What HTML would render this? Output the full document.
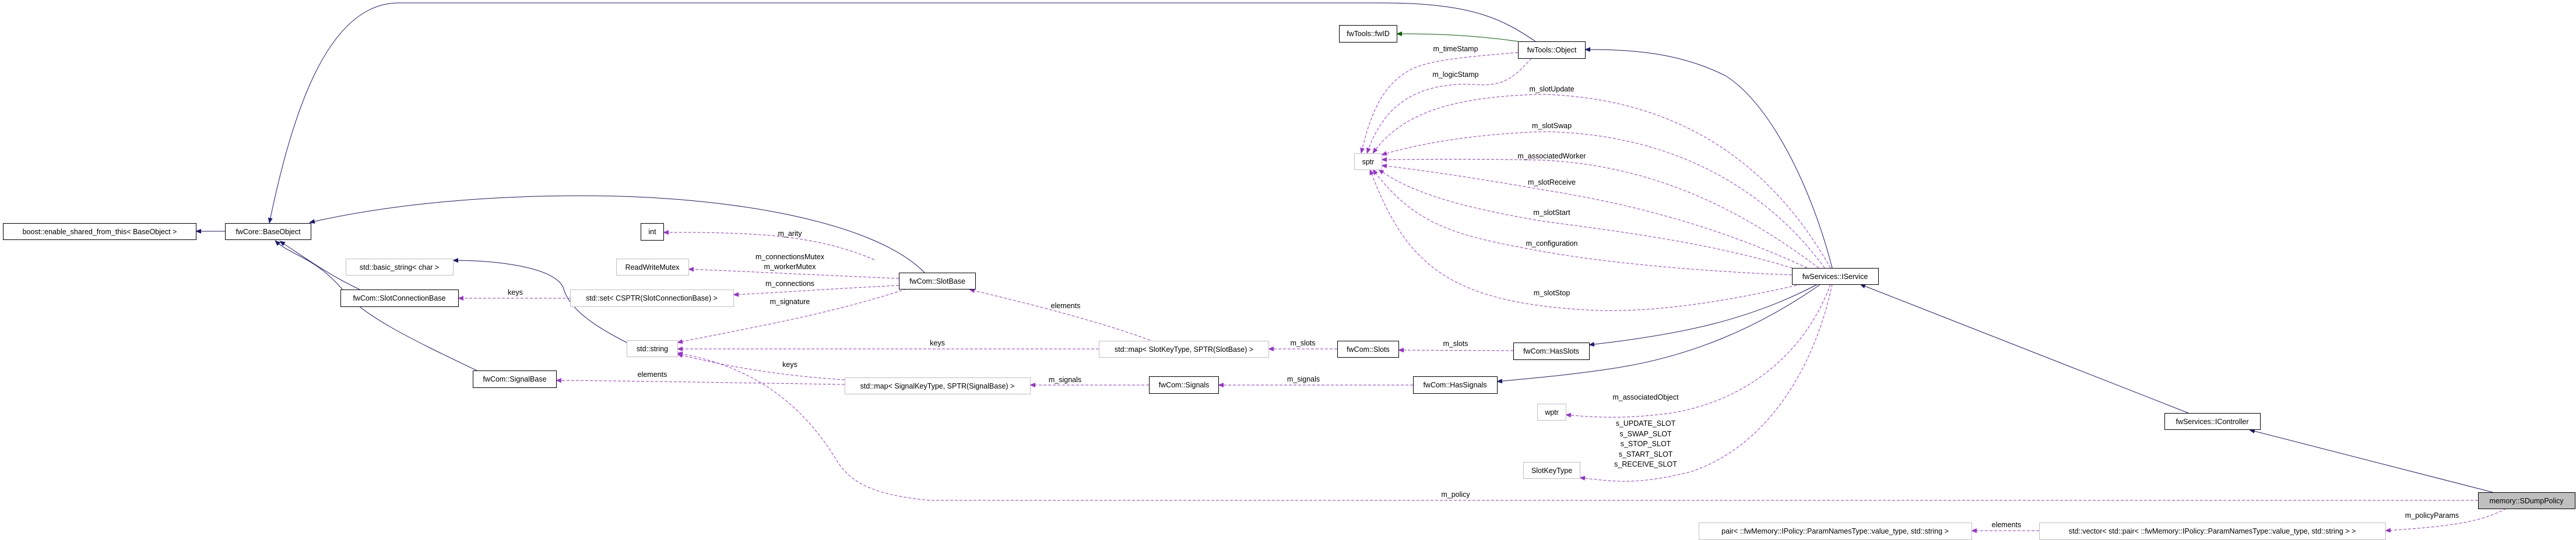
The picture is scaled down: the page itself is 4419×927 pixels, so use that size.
<!DOCTYPE html>
<html><head><meta charset="utf-8"><style>
html,body{margin:0;padding:0;background:#fff;}
svg{display:block;}
text{font-family:"Liberation Sans",sans-serif;font-size:12.5px;fill:#000;}
.n{fill:#fff;stroke:#000;stroke-width:1;}
.g{fill:#fff;stroke:#bfbfbf;stroke-width:1;}
.b{fill:none;stroke:#191970;stroke-width:1;}
.p{fill:none;stroke:#9a32cd;stroke-width:1;stroke-dasharray:5,3;}
.gr{fill:none;stroke:#006400;stroke-width:1;}
</style></head><body>
<svg width="4419" height="927" viewBox="0 0 4419 927" xmlns="http://www.w3.org/2000/svg">
<defs>
<marker id="ab" markerWidth="10" markerHeight="8" refX="9" refY="4" orient="auto" markerUnits="userSpaceOnUse"><path d="M0,0 L10,4 L0,8 z" fill="#191970"/></marker>
<marker id="ap" markerWidth="10" markerHeight="8" refX="9" refY="4" orient="auto" markerUnits="userSpaceOnUse"><path d="M0,0 L10,4 L0,8 z" fill="#9a32cd"/></marker>
<marker id="ag" markerWidth="10" markerHeight="8" refX="9" refY="4" orient="auto" markerUnits="userSpaceOnUse"><path d="M0,0 L10,4 L0,8 z" fill="#006400"/></marker>
</defs>

<!-- inheritance edges -->
<path class="b" d="M386,397 L336,397" marker-end="url(#ab)"/>
<path class="b" d="M2634,71 C2580,35 2530,5 2370,5 L684,5 C560,5 500,200 462,383" marker-end="url(#ab)"/>
<path class="b" d="M1586,468 C1500,380 1250,336 1000,336 C800,336 650,355 531,382" marker-end="url(#ab)"/>
<path class="b" d="M617,497 C560,470 520,440 480,414" marker-end="url(#ab)"/>
<path class="b" d="M818,636 C700,580 620,540 590,500 C540,440 500,440 472,413" marker-end="url(#ab)"/>
<path class="b" d="M1075,588 C1020,560 975,530 966,493 C950,460 860,447 777,447" marker-end="url(#ab)"/>
<path class="b" d="M3143,460 C3110,330 3040,180 2960,130 C2880,90 2800,85 2719,85" marker-end="url(#ab)"/>
<path class="b" d="M3118,488 C3000,550 2880,575 2726,592" marker-end="url(#ab)"/>
<path class="b" d="M3123,488 C3020,560 2900,615 2750,635 C2680,645 2620,650 2568,655" marker-end="url(#ab)"/>
<path class="b" d="M3754,709 L3191,488" marker-end="url(#ab)"/>
<path class="b" d="M4276,845 L3859,738" marker-end="url(#ab)"/>
<path class="gr" d="M2604,71 C2540,62 2480,58 2396,58" marker-end="url(#ag)"/>

<!-- usage edges -->
<path class="p" d="M1500,446 C1440,420 1380,410 1330,405 C1250,398 1180,399 1138,399" marker-end="url(#ap)"/>
<path class="p" d="M1542,478 C1400,472 1280,466 1181,462" marker-end="url(#ap)"/>
<path class="p" d="M1542,490 C1420,496 1340,502 1258,506" marker-end="url(#ap)"/>
<path class="p" d="M1555,496 C1420,540 1300,560 1162,588" marker-end="url(#ap)"/>
<path class="p" d="M978,512 L786,512" marker-end="url(#ap)"/>
<path class="p" d="M1885,599 L1162,599" marker-end="url(#ap)"/>
<path class="p" d="M1973,584 C1880,550 1760,520 1663,497" marker-end="url(#ap)"/>
<path class="p" d="M1449,652 C1340,645 1250,630 1162,608" marker-end="url(#ap)"/>
<path class="p" d="M1449,660 C1250,657 1100,654 954,653" marker-end="url(#ap)"/>
<path class="p" d="M2294,599 L2176,599" marker-end="url(#ap)"/>
<path class="p" d="M2596,602 L2399,601" marker-end="url(#ap)"/>
<path class="p" d="M1971,661 L1767,661" marker-end="url(#ap)"/>
<path class="p" d="M2424,661 L2090,661" marker-end="url(#ap)"/>
<path class="p" d="M4251,859 L1596,859 C1500,850 1460,830 1435,790 C1380,700 1300,630 1162,606" marker-end="url(#ap)"/>
<path class="p" d="M4299,873 C4250,900 4180,905 4092,911" marker-end="url(#ap)"/>
<path class="p" d="M3498,911 L3382,911" marker-end="url(#ap)"/>
<path class="p" d="M2604,90 C2540,96 2470,100 2430,115 C2370,140 2350,200 2335,263" marker-end="url(#ap)"/>
<path class="p" d="M2627,100 C2600,130 2580,150 2530,145 C2420,140 2370,190 2345,263" marker-end="url(#ap)"/>
<path class="p" d="M3140,460 C3050,300 2900,170 2648,162 C2480,165 2400,200 2355,263" marker-end="url(#ap)"/>
<path class="p" d="M3130,460 C3050,350 2900,230 2648,226 C2520,230 2420,250 2370,266" marker-end="url(#ap)"/>
<path class="p" d="M3120,460 C3000,370 2850,285 2648,275 C2520,272 2420,274 2370,274" marker-end="url(#ap)"/>
<path class="p" d="M3100,460 C2950,390 2800,350 2648,326 C2500,300 2420,290 2370,284" marker-end="url(#ap)"/>
<path class="p" d="M3090,465 C2950,420 2800,400 2648,380 C2500,355 2420,330 2365,291" marker-end="url(#ap)"/>
<path class="p" d="M3074,472 C2900,465 2750,450 2648,432 C2500,405 2430,390 2355,291" marker-end="url(#ap)"/>
<path class="p" d="M3090,488 C2950,520 2820,540 2705,531 C2480,515 2410,450 2350,291" marker-end="url(#ap)"/>
<path class="p" d="M3140,488 C3100,600 3000,690 2860,710 C2780,720 2730,716 2686,712" marker-end="url(#ap)"/>
<path class="p" d="M3143,488 C3120,600 3050,760 2900,810 C2800,835 2760,825 2710,820" marker-end="url(#ap)"/>

<!-- edge labels -->
<g text-anchor="middle">
<text x="1355" y="405">m_arity</text>
<text x="1355" y="445">m_connectionsMutex</text>
<text x="1355" y="462">m_workerMutex</text>
<text x="1355" y="491">m_connections</text>
<text x="1355" y="522">m_signature</text>
<text x="884" y="506">keys</text>
<text x="1608" y="593">keys</text>
<text x="1828" y="529">elements</text>
<text x="1355" y="630">keys</text>
<text x="1119" y="647">elements</text>
<text x="2235" y="593">m_slots</text>
<text x="2497" y="594">m_slots</text>
<text x="1827" y="656">m_signals</text>
<text x="2236" y="655">m_signals</text>
<text x="2497" y="853">m_policy</text>
<text x="4172" y="889">m_policyParams</text>
<text x="3442" y="905">elements</text>
<text x="2497" y="88">m_timeStamp</text>
<text x="2497" y="132">m_logicStamp</text>
<text x="2662" y="157">m_slotUpdate</text>
<text x="2662" y="220">m_slotSwap</text>
<text x="2662" y="272">m_associatedWorker</text>
<text x="2662" y="317">m_slotReceive</text>
<text x="2662" y="369">m_slotStart</text>
<text x="2662" y="422">m_configuration</text>
<text x="2662" y="507">m_slotStop</text>
<text x="2823" y="686">m_associatedObject</text>
<text x="2823" y="731">s_UPDATE_SLOT</text>
<text x="2823" y="749">s_SWAP_SLOT</text>
<text x="2823" y="766">s_STOP_SLOT</text>
<text x="2823" y="784">s_START_SLOT</text>
<text x="2823" y="801">s_RECEIVE_SLOT</text>
</g>

<!-- nodes -->
<g text-anchor="middle">
<rect class="n" x="5.5" y="383.5" width="331" height="28"/><text x="171" y="402">boost::enable_shared_from_this&lt; BaseObject &gt;</text>
<rect class="n" x="386.5" y="383.5" width="147" height="28"/><text x="460" y="402">fwCore::BaseObject</text>
<rect class="n" x="1099.5" y="383.5" width="39" height="29"/><text x="1119" y="402">int</text>
<rect class="g" x="1057.5" y="444.5" width="124" height="28"/><text x="1119" y="463">ReadWriteMutex</text>
<rect class="g" x="593.5" y="444.5" width="184" height="28"/><text x="685" y="463">std::basic_string&lt; char &gt;</text>
<rect class="n" x="584.5" y="497.5" width="202" height="29"/><text x="685" y="516">fwCom::SlotConnectionBase</text>
<rect class="g" x="978.5" y="497.5" width="280" height="29"/><text x="1118" y="516">std::set&lt; CSPTR(SlotConnectionBase) &gt;</text>
<rect class="g" x="1075.5" y="584.5" width="87" height="28"/><text x="1119" y="603">std::string</text>
<rect class="n" x="811.5" y="636.5" width="143" height="29"/><text x="883" y="655">fwCom::SignalBase</text>
<rect class="g" x="1449.5" y="648.5" width="318" height="28"/><text x="1608" y="667">std::map&lt; SignalKeyType, SPTR(SignalBase) &gt;</text>
<rect class="n" x="2297.5" y="43.5" width="99" height="29"/><text x="2347" y="62">fwTools::fwID</text>
<rect class="n" x="2604.5" y="71.5" width="115" height="29"/><text x="2662" y="90">fwTools::Object</text>
<rect class="g" x="2323.5" y="263.5" width="47" height="28"/><text x="2347" y="282">sptr</text>
<rect class="n" x="1542.5" y="468.5" width="131" height="28"/><text x="1608" y="487">fwCom::SlotBase</text>
<rect class="g" x="1885.5" y="585.5" width="291" height="28"/><text x="2031" y="604">std::map&lt; SlotKeyType, SPTR(SlotBase) &gt;</text>
<rect class="n" x="2294.5" y="585.5" width="105" height="28"/><text x="2347" y="604">fwCom::Slots</text>
<rect class="n" x="2596.5" y="588.5" width="130" height="29"/><text x="2661" y="607">fwCom::HasSlots</text>
<rect class="n" x="1971.5" y="646.5" width="119" height="29"/><text x="2031" y="665">fwCom::Signals</text>
<rect class="n" x="2424.5" y="646.5" width="144" height="29"/><text x="2496" y="665">fwCom::HasSignals</text>
<rect class="g" x="2637.5" y="693.5" width="49" height="28"/><text x="2662" y="712">wptr</text>
<rect class="g" x="2613.5" y="793.5" width="97" height="28"/><text x="2662" y="812">SlotKeyType</text>
<rect class="g" x="2914.5" y="897.5" width="468" height="29"/><text x="3148" y="916">pair&lt; ::fwMemory::IPolicy::ParamNamesType::value_type, std::string &gt;</text>
<rect class="g" x="3498.5" y="897.5" width="594" height="29"/><text x="3795" y="916">std::vector&lt; std::pair&lt; ::fwMemory::IPolicy::ParamNamesType::value_type, std::string &gt; &gt;</text>
<rect class="n" x="3074.5" y="460.5" width="148" height="28"/><text x="3148" y="479">fwServices::IService</text>
<rect class="n" x="3713.5" y="709.5" width="164" height="28"/><text x="3795" y="728">fwServices::IController</text>
<rect x="4251.5" y="845.5" width="166" height="28" fill="#bfbfbf" stroke="#000"/><text x="4334" y="864">memory::SDumpPolicy</text>
</g>
</svg>
</body></html>
